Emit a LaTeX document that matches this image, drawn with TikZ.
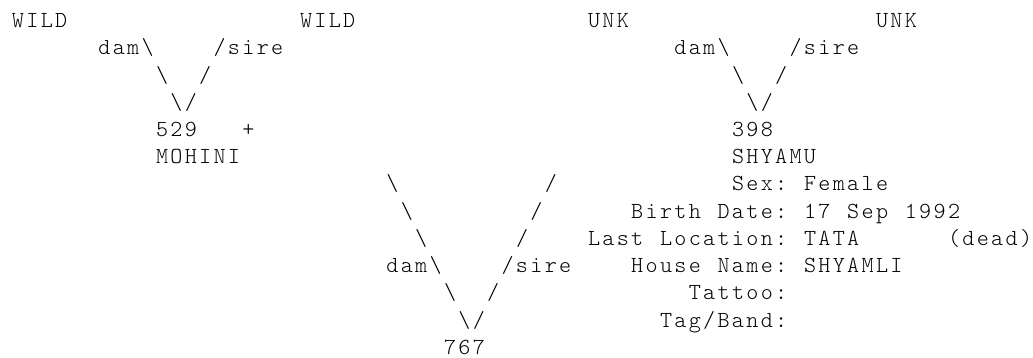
\documentclass[tikz,border=0pt]{standalone}
\usepackage{fontspec}
\newfontfamily\cour{lmmonolt10-regular.otf}[LetterSpace=10.1]
\tikzset{
  txt/.style={anchor=base west, inner sep=0pt, outer sep=0pt, font=\cour\fontsize{23}{27}\selectfont, text=black},
}
\newcommand\tx[4]{\node[txt] (#1) at ({12+#2*14.4},{27.8+(#3-1)*27.2}) {#4};}
\newcommand\bs{\textbackslash}
\begin{document}
\begin{tikzpicture}[x=1pt,y=-1pt]
\fill[white] (0,0) rectangle (1033,358);
\useasboundingbox (0,0) rectangle (1033,358);
% line 1
\tx{wa}{0}{1}{WILD}
\tx{wb}{20}{1}{WILD}
\tx{ua}{40}{1}{UNK}
\tx{ub}{60}{1}{UNK}
% line 2
\tx{da}{6}{2}{dam\bs}
\tx{sa}{14}{2}{/sire}
\tx{db}{46}{2}{dam\bs}
\tx{sb}{54}{2}{/sire}
% line 3
\tx{la3}{10}{3}{\bs}
\tx{ra3}{13}{3}{/}
\tx{lb3}{50}{3}{\bs}
\tx{rb3}{53}{3}{/}
% line 4
\tx{va}{11}{4}{\bs/}
\tx{vb}{51}{4}{\bs/}
% line 5
\tx{n529}{10}{5}{529}
\tx{plus}{16}{5}{+}
\tx{n398}{50}{5}{398}
% line 6
\tx{mohini}{10}{6}{MOHINI}
\tx{shyamu}{50}{6}{SHYAMU}
% line 7
\tx{lc7}{26}{7}{\bs}
\tx{rc7}{37}{7}{/}
\tx{sexl}{50}{7}{Sex:}
\tx{sexv}{55}{7}{Female}
% line 8
\tx{lc8}{27}{8}{\bs}
\tx{rc8}{36}{8}{/}
\tx{bd1}{43}{8}{Birth}
\tx{bd2}{49}{8}{Date:}
\tx{bv1}{55}{8}{17}
\tx{bv2}{58}{8}{Sep}
\tx{bv3}{62}{8}{1992}
% line 9
\tx{lc9}{28}{9}{\bs}
\tx{rc9}{35}{9}{/}
\tx{ll1}{40}{9}{Last}
\tx{ll2}{45}{9}{Location:}
\tx{llv}{55}{9}{TATA}
\tx{dead}{65}{9}{(dead)}
% line 10
\tx{dc}{26}{10}{dam\bs}
\tx{sc}{34}{10}{/sire}
\tx{hn1}{43}{10}{House}
\tx{hn2}{49}{10}{Name:}
\tx{hnv}{55}{10}{SHYAMLI}
% line 11
\tx{lc11}{30}{11}{\bs}
\tx{rc11}{33}{11}{/}
\tx{tat}{47}{11}{Tattoo:}
% line 12
\tx{vc}{31}{12}{\bs/}
\tx{tag}{45}{12}{Tag/Band:}
% line 13
\tx{n767}{30}{13}{767}
\end{tikzpicture}
\end{document}
